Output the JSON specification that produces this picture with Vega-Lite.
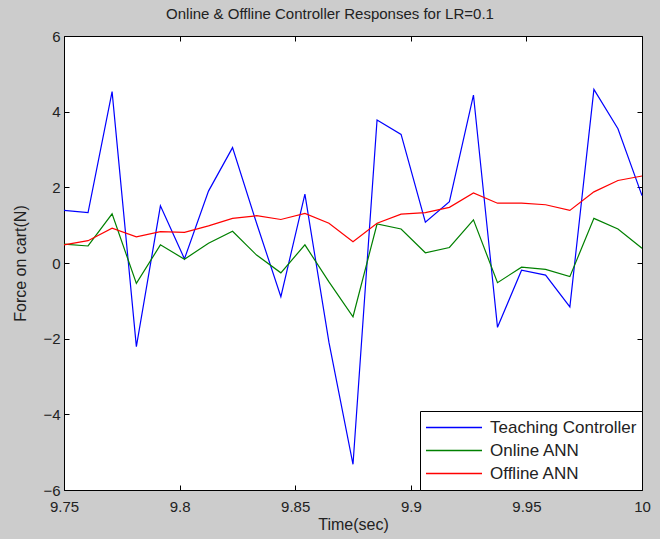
{
  "$schema": "https://vega.github.io/schema/vega-lite/v6.json",
  "autosize": "none",
  "width": 578,
  "height": 454,
  "padding": {"left": 64, "top": 36, "right": 18, "bottom": 49},
  "background": "#cccccc",
  "title": {"text": "Online & Offline Controller Responses for LR=0.1", "font": "Liberation Sans", "fontSize": 15, "fontWeight": "normal", "color": "#222222", "anchor": "middle", "offset": 7, "dx": -23},
  "config": {
    "view": {"fill": "white", "stroke": "black", "strokeWidth": 1},
    "axis": {"grid": false, "domain": false, "tickColor": "black", "tickSize": -5, "labelFont": "Liberation Sans", "labelFontSize": 15, "labelColor": "#222222", "titleFont": "Liberation Sans", "titleFontSize": 16, "titleFontWeight": "normal", "titleColor": "#222222"}
  },
  "datasets": {
    "d": [
      {"t": 9.75, "series": "Teaching Controller", "f": 1.39},
      {"t": 9.7604, "series": "Teaching Controller", "f": 1.33},
      {"t": 9.7708, "series": "Teaching Controller", "f": 4.53},
      {"t": 9.7813, "series": "Teaching Controller", "f": -2.21},
      {"t": 9.7917, "series": "Teaching Controller", "f": 1.51},
      {"t": 9.8021, "series": "Teaching Controller", "f": 0.11},
      {"t": 9.8125, "series": "Teaching Controller", "f": 1.9},
      {"t": 9.8229, "series": "Teaching Controller", "f": 3.05},
      {"t": 9.8333, "series": "Teaching Controller", "f": 1.05},
      {"t": 9.8438, "series": "Teaching Controller", "f": -0.89},
      {"t": 9.8542, "series": "Teaching Controller", "f": 1.82},
      {"t": 9.8646, "series": "Teaching Controller", "f": -2.1},
      {"t": 9.875, "series": "Teaching Controller", "f": -5.32},
      {"t": 9.8854, "series": "Teaching Controller", "f": 3.78},
      {"t": 9.8958, "series": "Teaching Controller", "f": 3.4},
      {"t": 9.9063, "series": "Teaching Controller", "f": 1.08},
      {"t": 9.9167, "series": "Teaching Controller", "f": 1.62},
      {"t": 9.9271, "series": "Teaching Controller", "f": 4.44},
      {"t": 9.9375, "series": "Teaching Controller", "f": -1.7},
      {"t": 9.9479, "series": "Teaching Controller", "f": -0.19},
      {"t": 9.9583, "series": "Teaching Controller", "f": -0.32},
      {"t": 9.9688, "series": "Teaching Controller", "f": -1.16},
      {"t": 9.9792, "series": "Teaching Controller", "f": 4.59},
      {"t": 9.9896, "series": "Teaching Controller", "f": 3.55},
      {"t": 10.0, "series": "Teaching Controller", "f": 1.78},
      {"t": 9.75, "series": "Online ANN", "f": 0.5},
      {"t": 9.7604, "series": "Online ANN", "f": 0.45},
      {"t": 9.7708, "series": "Online ANN", "f": 1.3},
      {"t": 9.7813, "series": "Online ANN", "f": -0.54},
      {"t": 9.7917, "series": "Online ANN", "f": 0.48},
      {"t": 9.8021, "series": "Online ANN", "f": 0.1},
      {"t": 9.8125, "series": "Online ANN", "f": 0.52},
      {"t": 9.8229, "series": "Online ANN", "f": 0.84},
      {"t": 9.8333, "series": "Online ANN", "f": 0.21},
      {"t": 9.8438, "series": "Online ANN", "f": -0.26},
      {"t": 9.8542, "series": "Online ANN", "f": 0.48},
      {"t": 9.8646, "series": "Online ANN", "f": -0.5},
      {"t": 9.875, "series": "Online ANN", "f": -1.42},
      {"t": 9.8854, "series": "Online ANN", "f": 1.03},
      {"t": 9.8958, "series": "Online ANN", "f": 0.9},
      {"t": 9.9063, "series": "Online ANN", "f": 0.27},
      {"t": 9.9167, "series": "Online ANN", "f": 0.41},
      {"t": 9.9271, "series": "Online ANN", "f": 1.14},
      {"t": 9.9375, "series": "Online ANN", "f": -0.52},
      {"t": 9.9479, "series": "Online ANN", "f": -0.11},
      {"t": 9.9583, "series": "Online ANN", "f": -0.17},
      {"t": 9.9688, "series": "Online ANN", "f": -0.36},
      {"t": 9.9792, "series": "Online ANN", "f": 1.18},
      {"t": 9.9896, "series": "Online ANN", "f": 0.9},
      {"t": 10.0, "series": "Online ANN", "f": 0.39},
      {"t": 9.75, "series": "Offline ANN", "f": 0.48},
      {"t": 9.7604, "series": "Offline ANN", "f": 0.59},
      {"t": 9.7708, "series": "Offline ANN", "f": 0.92},
      {"t": 9.7813, "series": "Offline ANN", "f": 0.69},
      {"t": 9.7917, "series": "Offline ANN", "f": 0.83},
      {"t": 9.8021, "series": "Offline ANN", "f": 0.81},
      {"t": 9.8125, "series": "Offline ANN", "f": 0.98},
      {"t": 9.8229, "series": "Offline ANN", "f": 1.18},
      {"t": 9.8333, "series": "Offline ANN", "f": 1.25},
      {"t": 9.8438, "series": "Offline ANN", "f": 1.15},
      {"t": 9.8542, "series": "Offline ANN", "f": 1.31},
      {"t": 9.8646, "series": "Offline ANN", "f": 1.05},
      {"t": 9.875, "series": "Offline ANN", "f": 0.56},
      {"t": 9.8854, "series": "Offline ANN", "f": 1.05},
      {"t": 9.8958, "series": "Offline ANN", "f": 1.29},
      {"t": 9.9063, "series": "Offline ANN", "f": 1.33},
      {"t": 9.9167, "series": "Offline ANN", "f": 1.47},
      {"t": 9.9271, "series": "Offline ANN", "f": 1.85},
      {"t": 9.9375, "series": "Offline ANN", "f": 1.58},
      {"t": 9.9479, "series": "Offline ANN", "f": 1.58},
      {"t": 9.9583, "series": "Offline ANN", "f": 1.54},
      {"t": 9.9688, "series": "Offline ANN", "f": 1.39},
      {"t": 9.9792, "series": "Offline ANN", "f": 1.88},
      {"t": 9.9896, "series": "Offline ANN", "f": 2.18},
      {"t": 10.0, "series": "Offline ANN", "f": 2.3}
    ]
  },
  "data": {"name": "d"},
  "layer": [
    {
      "mark": {"type": "line", "strokeWidth": 1.2},
      "encoding": {
        "x": {"field": "t", "type": "quantitative", "scale": {"domain": [9.75, 10], "nice": false, "zero": false}, "axis": {"title": "Time(sec)", "values": [9.75, 9.8, 9.85, 9.9, 9.95, 10], "format": "~g", "labelPadding": 14, "titlePadding": 2, "labelFlush": false}},
        "y": {"field": "f", "type": "quantitative", "scale": {"domain": [-6, 6], "nice": false, "zero": false}, "axis": {"title": "Force on cart(N)", "values": [-6, -4, -2, 0, 2, 4, 6], "labelPadding": 9, "titlePadding": 14}},
        "color": {"field": "series", "type": "nominal", "scale": {"domain": ["Teaching Controller", "Online ANN", "Offline ANN"], "range": ["#0000ff", "#008000", "#ff0000"]},
          "legend": {"title": null, "orient": "bottom-right", "offset": 0, "fillColor": "white", "strokeColor": "black", "padding": 5, "symbolType": "stroke", "symbolSize": 3136, "symbolStrokeWidth": 1.5, "labelFontSize": 17, "labelFont": "Liberation Sans", "labelColor": "#222222", "rowPadding": 0, "clipHeight": 23, "labelOffset": 7}},
        "detail": {"field": "series"}
      }
    },
    {
      "mark": {"type": "line", "opacity": 0},
      "encoding": {
        "x": {"field": "t", "type": "quantitative", "axis": {"orient": "top", "labels": false, "title": null, "values": [9.75, 9.8, 9.85, 9.9, 9.95, 10]}},
        "y": {"field": "f", "type": "quantitative", "axis": {"orient": "right", "labels": false, "title": null, "values": [-6, -4, -2, 0, 2, 4, 6]}},
        "detail": {"field": "series"}
      }
    }
  ],
  "resolve": {"axis": {"x": "independent", "y": "independent"}}
}
